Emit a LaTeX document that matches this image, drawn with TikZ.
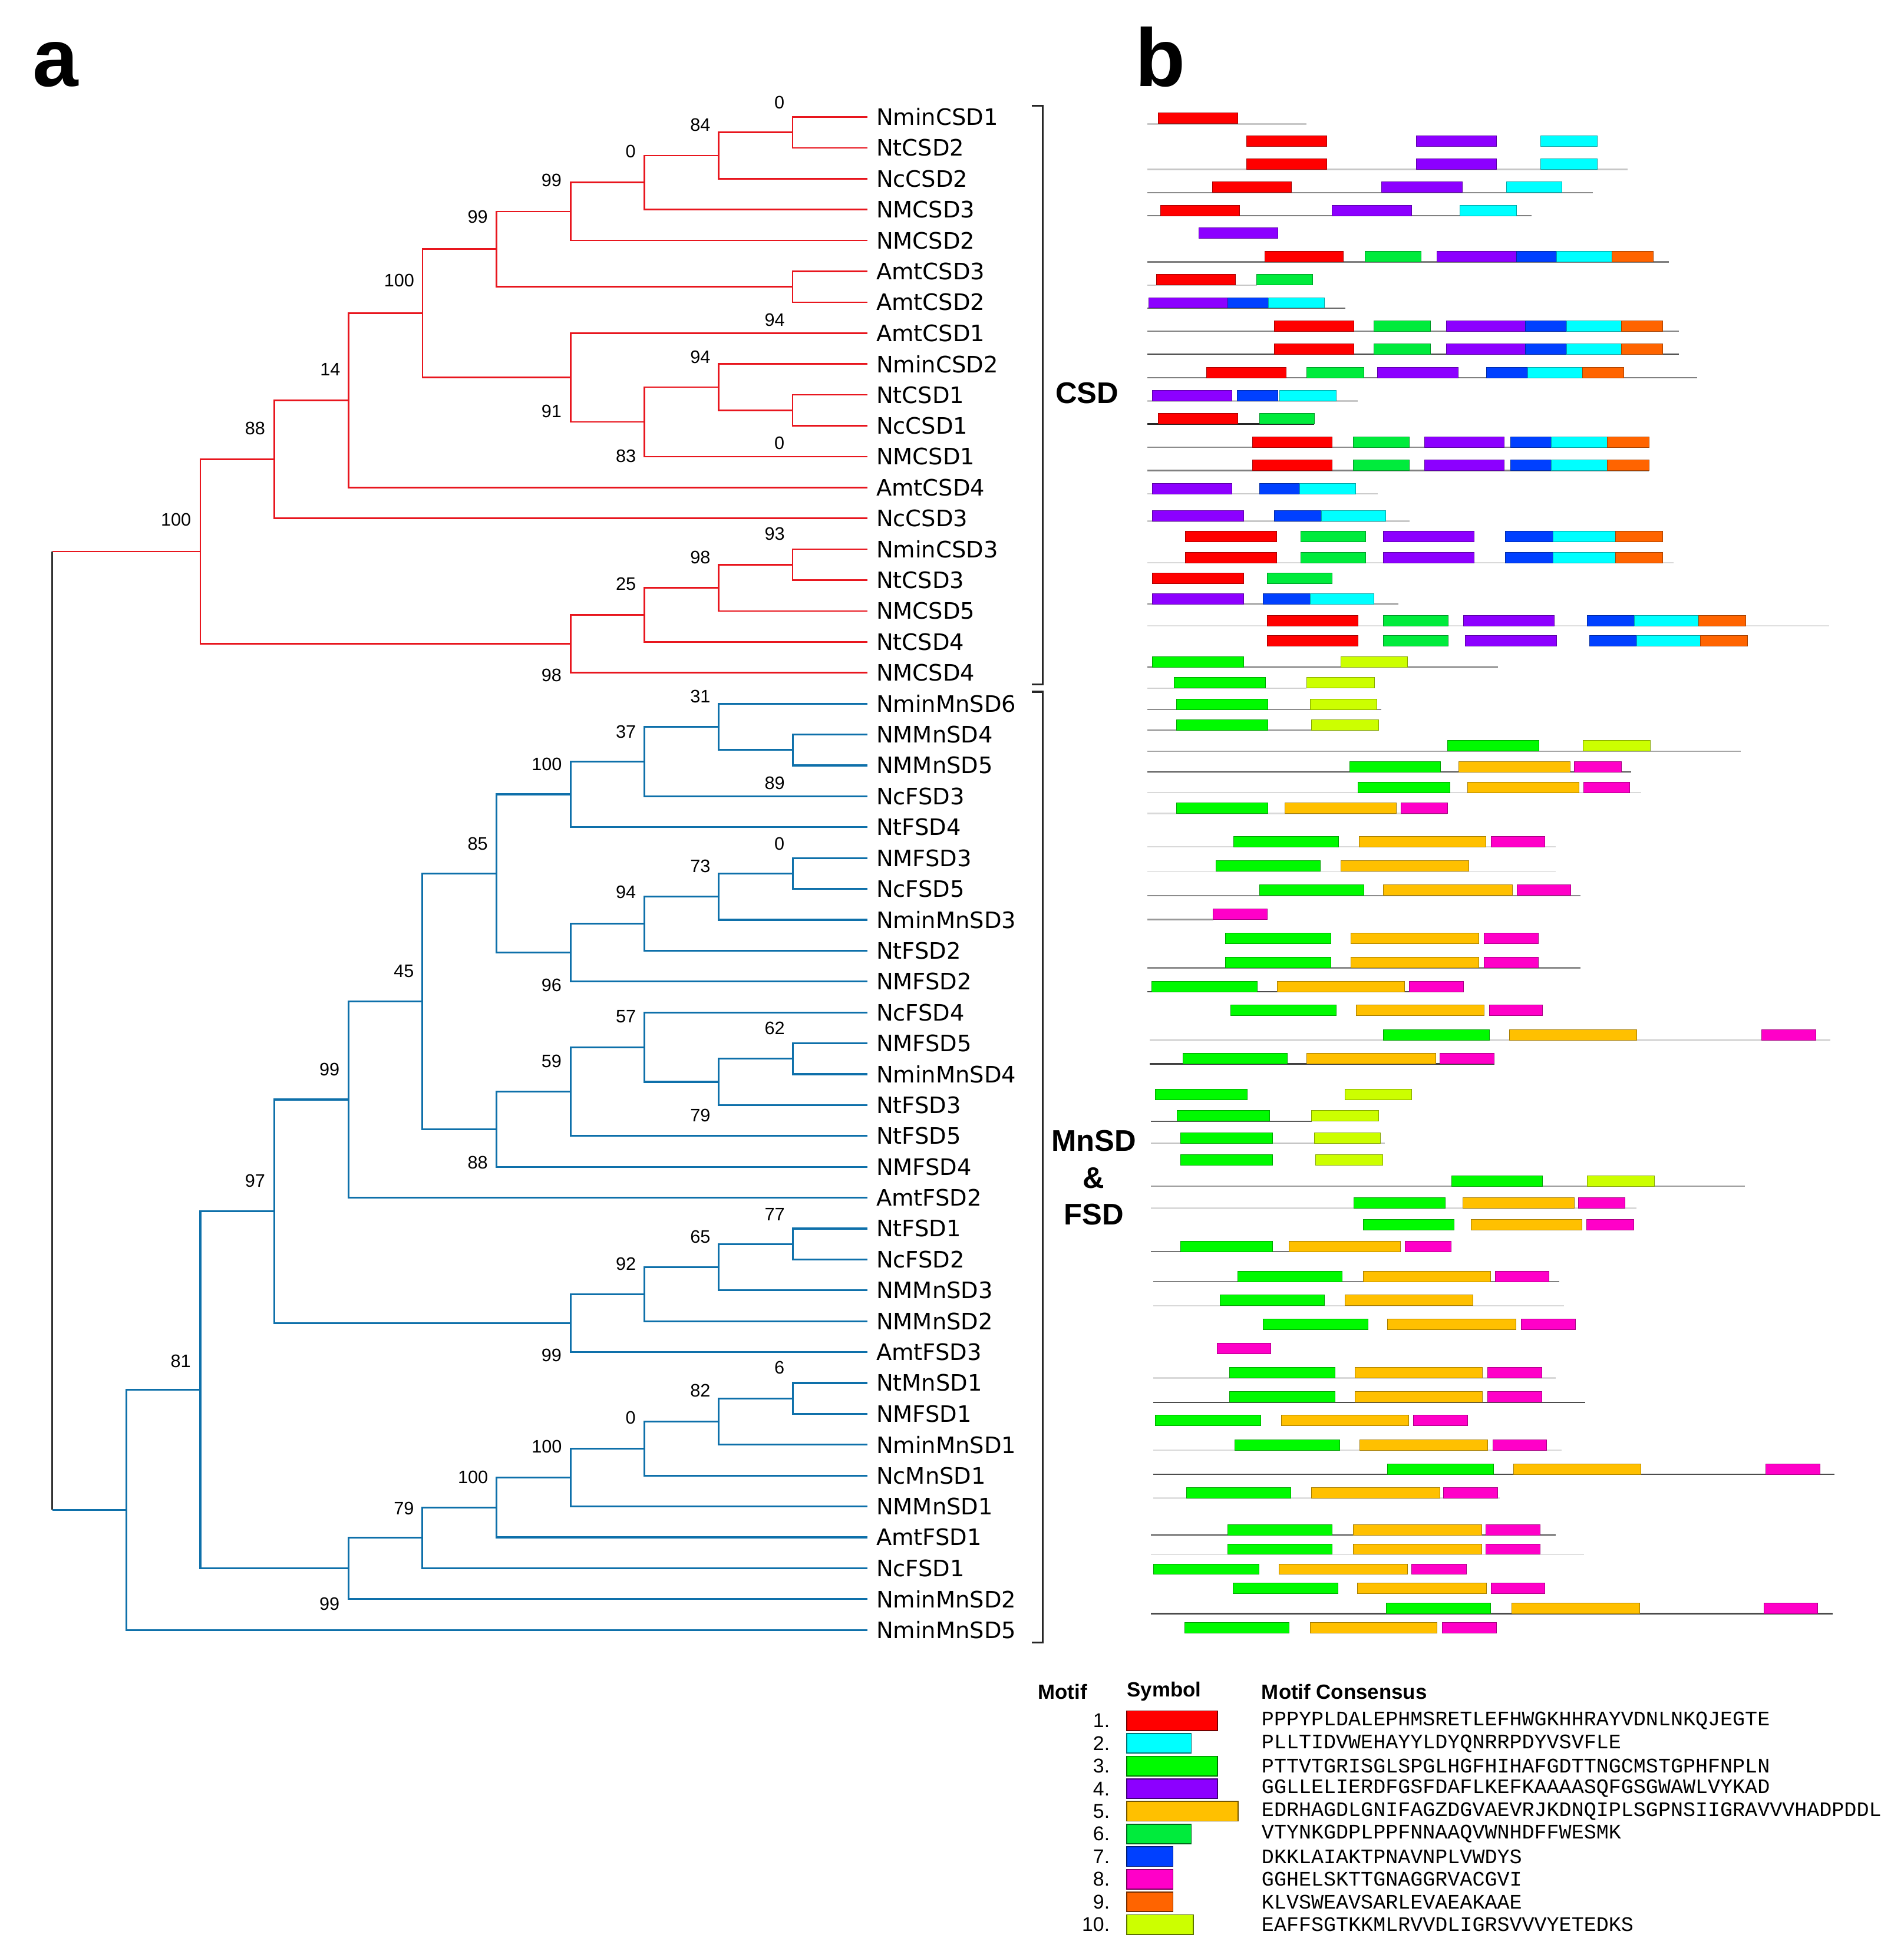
\documentclass[tikz,border=0pt]{standalone}
\usepackage{fontspec}
\setmainfont{Liberation Sans}
\newfontfamily\leaffont{DejaVu Sans}
\newfontfamily\seqfont{Liberation Mono}
\usetikzlibrary{calc}
\definecolor{csdred}{RGB}{232,22,30}
\definecolor{fsdblue}{RGB}{14,112,170}
\definecolor{mA}{RGB}{255,0,0}
\definecolor{mB}{RGB}{0,255,255}
\definecolor{mC}{RGB}{0,250,0}
\definecolor{mD}{RGB}{140,0,255}
\definecolor{mE}{RGB}{255,192,0}
\definecolor{mF}{RGB}{0,235,60}
\definecolor{mG}{RGB}{0,64,255}
\definecolor{mH}{RGB}{255,0,200}
\definecolor{mI}{RGB}{255,100,0}
\definecolor{mJ}{RGB}{204,255,0}

\begin{document}
\begin{tikzpicture}[x=1pt,y=-1pt,
    csd/.style={draw=csdred,line width=1.3pt},
    fsd/.style={draw=fsdblue,line width=1.5pt},
    rootline/.style={draw=black!80,line width=1.3pt},
    leaf/.style={anchor=west,inner xsep=7pt,inner ysep=0pt,font=\leaffont\fontsize{18.2}{20}\selectfont},
    boot/.style={inner sep=0pt,font=\fontsize{14.5}{16}\selectfont},
    group/.style={inner sep=0pt,font=\bfseries\fontsize{24}{29.5}\selectfont},
    panel/.style={anchor=base west,inner sep=0pt,font=\bfseries\fontsize{66}{70}\selectfont},
    bracket/.style={draw=black!85,line width=1.5pt},
    motif/.style={fill=#1,draw=#1!65!black,line width=0.35pt},
    keybar/.style={fill=#1,draw=#1!45!black,line width=0.8pt},
    head/.style={anchor=west,inner sep=0pt,font=\bfseries\fontsize{16.5}{18}\selectfont},
    num/.style={anchor=east,inner sep=0pt,font=\fontsize{16}{18}\selectfont},
    seq/.style={anchor=west,inner sep=0pt,font=\seqfont\fontsize{16.6}{18}\selectfont}]
  \useasboundingbox (0,0) rectangle (1530,1568);

  % panel letters
  \node[panel] (pa) at (26,69.5) {a};
  \node[panel] (pb) at (912,69.5) {b};

  % levels of the tree
  \foreach \k in {0,...,10}
    \coordinate (x\k) at ({42+59.5*\k},0);

  % leaves
  \foreach \name [count=\i from 0] in {NminCSD1,NtCSD2,NcCSD2,NMCSD3,NMCSD2,AmtCSD3,AmtCSD2,AmtCSD1,NminCSD2,NtCSD1,NcCSD1,NMCSD1,AmtCSD4,NcCSD3,NminCSD3,NtCSD3,NMCSD5,NtCSD4,NMCSD4,NminMnSD6,NMMnSD4,NMMnSD5,NcFSD3,NtFSD4,NMFSD3,NcFSD5,NminMnSD3,NtFSD2,NMFSD2,NcFSD4,NMFSD5,NminMnSD4,NtFSD3,NtFSD5,NMFSD4,AmtFSD2,NtFSD1,NcFSD2,NMMnSD3,NMMnSD2,AmtFSD3,NtMnSD1,NMFSD1,NminMnSD1,NcMnSD1,NMMnSD1,AmtFSD1,NcFSD1,NminMnSD2,NminMnSD5}
    \node[leaf] (l\i) at (697,{94+24.816*\i}) {\name};

  % CSD clade
  \coordinate (c1) at ($(x10 |- l0.west)!.5!(x10 |- l1.west)$);
  \draw[csd] (l0.west) -| (c1) |- (l1.west);
  \coordinate (c2) at ($(x9 |- c1)!.5!(x9 |- l2.west)$);
  \draw[csd] (c1) -| (c2) |- (l2.west);
  \coordinate (c3) at ($(x8 |- c2)!.5!(x8 |- l3.west)$);
  \draw[csd] (c2) -| (c3) |- (l3.west);
  \coordinate (c4) at ($(x7 |- c3)!.5!(x7 |- l4.west)$);
  \draw[csd] (c3) -| (c4) |- (l4.west);
  \coordinate (c5) at ($(x10 |- l5.west)!.5!(x10 |- l6.west)$);
  \draw[csd] (l5.west) -| (c5) |- (l6.west);
  \coordinate (c6) at ($(x6 |- c4)!.5!(x6 |- c5)$);
  \draw[csd] (c4) -| (c6) |- (c5);
  \coordinate (c7) at ($(x10 |- l9.west)!.5!(x10 |- l10.west)$);
  \draw[csd] (l9.west) -| (c7) |- (l10.west);
  \coordinate (c8) at ($(x9 |- l8.west)!.5!(x9 |- c7)$);
  \draw[csd] (l8.west) -| (c8) |- (c7);
  \coordinate (c9) at ($(x8 |- c8)!.5!(x8 |- l11.west)$);
  \draw[csd] (c8) -| (c9) |- (l11.west);
  \coordinate (c10) at ($(x7 |- l7.west)!.5!(x7 |- c9)$);
  \draw[csd] (l7.west) -| (c10) |- (c9);
  \coordinate (c11) at ($(x5 |- c6)!.5!(x5 |- c10)$);
  \draw[csd] (c6) -| (c11) |- (c10);
  \coordinate (c12) at ($(x4 |- c11)!.5!(x4 |- l12.west)$);
  \draw[csd] (c11) -| (c12) |- (l12.west);
  \coordinate (c13) at ($(x3 |- c12)!.5!(x3 |- l13.west)$);
  \draw[csd] (c12) -| (c13) |- (l13.west);
  \coordinate (c14) at ($(x10 |- l14.west)!.5!(x10 |- l15.west)$);
  \draw[csd] (l14.west) -| (c14) |- (l15.west);
  \coordinate (c15) at ($(x9 |- c14)!.5!(x9 |- l16.west)$);
  \draw[csd] (c14) -| (c15) |- (l16.west);
  \coordinate (c16) at ($(x8 |- c15)!.5!(x8 |- l17.west)$);
  \draw[csd] (c15) -| (c16) |- (l17.west);
  \coordinate (c17) at ($(x7 |- c16)!.5!(x7 |- l18.west)$);
  \draw[csd] (c16) -| (c17) |- (l18.west);
  \coordinate (c18) at ($(x2 |- c13)!.5!(x2 |- c17)$);
  \draw[csd] (c13) -| (c18) |- (c17);

  % MnSD & FSD clade
  \coordinate (b10) at ($(x10 |- l20.west)!.5!(x10 |- l21.west)$);
  \draw[fsd] (l20.west) -| (b10) |- (l21.west);
  \coordinate (b9) at ($(x9 |- l19.west)!.5!(x9 |- b10)$);
  \draw[fsd] (l19.west) -| (b9) |- (b10);
  \coordinate (b8) at ($(x8 |- b9)!.5!(x8 |- l22.west)$);
  \draw[fsd] (b9) -| (b8) |- (l22.west);
  \coordinate (b7) at ($(x7 |- b8)!.5!(x7 |- l23.west)$);
  \draw[fsd] (b8) -| (b7) |- (l23.west);
  \coordinate (b14) at ($(x10 |- l24.west)!.5!(x10 |- l25.west)$);
  \draw[fsd] (l24.west) -| (b14) |- (l25.west);
  \coordinate (b13) at ($(x9 |- b14)!.5!(x9 |- l26.west)$);
  \draw[fsd] (b14) -| (b13) |- (l26.west);
  \coordinate (b12) at ($(x8 |- b13)!.5!(x8 |- l27.west)$);
  \draw[fsd] (b13) -| (b12) |- (l27.west);
  \coordinate (b11) at ($(x7 |- b12)!.5!(x7 |- l28.west)$);
  \draw[fsd] (b12) -| (b11) |- (l28.west);
  \coordinate (b6) at ($(x6 |- b7)!.5!(x6 |- b11)$);
  \draw[fsd] (b7) -| (b6) |- (b11);
  \coordinate (b19) at ($(x10 |- l30.west)!.5!(x10 |- l31.west)$);
  \draw[fsd] (l30.west) -| (b19) |- (l31.west);
  \coordinate (b18) at ($(x9 |- b19)!.5!(x9 |- l32.west)$);
  \draw[fsd] (b19) -| (b18) |- (l32.west);
  \coordinate (b17) at ($(x8 |- l29.west)!.5!(x8 |- b18)$);
  \draw[fsd] (l29.west) -| (b17) |- (b18);
  \coordinate (b16) at ($(x7 |- b17)!.5!(x7 |- l33.west)$);
  \draw[fsd] (b17) -| (b16) |- (l33.west);
  \coordinate (b15) at ($(x6 |- b16)!.5!(x6 |- l34.west)$);
  \draw[fsd] (b16) -| (b15) |- (l34.west);
  \coordinate (b5) at ($(x5 |- b6)!.5!(x5 |- b15)$);
  \draw[fsd] (b6) -| (b5) |- (b15);
  \coordinate (b4) at ($(x4 |- b5)!.5!(x4 |- l35.west)$);
  \draw[fsd] (b5) -| (b4) |- (l35.west);
  \coordinate (b23) at ($(x10 |- l36.west)!.5!(x10 |- l37.west)$);
  \draw[fsd] (l36.west) -| (b23) |- (l37.west);
  \coordinate (b22) at ($(x9 |- b23)!.5!(x9 |- l38.west)$);
  \draw[fsd] (b23) -| (b22) |- (l38.west);
  \coordinate (b21) at ($(x8 |- b22)!.5!(x8 |- l39.west)$);
  \draw[fsd] (b22) -| (b21) |- (l39.west);
  \coordinate (b20) at ($(x7 |- b21)!.5!(x7 |- l40.west)$);
  \draw[fsd] (b21) -| (b20) |- (l40.west);
  \coordinate (b3) at ($(x3 |- b4)!.5!(x3 |- b20)$);
  \draw[fsd] (b4) -| (b3) |- (b20);
  \coordinate (b30) at ($(x10 |- l41.west)!.5!(x10 |- l42.west)$);
  \draw[fsd] (l41.west) -| (b30) |- (l42.west);
  \coordinate (b29) at ($(x9 |- b30)!.5!(x9 |- l43.west)$);
  \draw[fsd] (b30) -| (b29) |- (l43.west);
  \coordinate (b28) at ($(x8 |- b29)!.5!(x8 |- l44.west)$);
  \draw[fsd] (b29) -| (b28) |- (l44.west);
  \coordinate (b27) at ($(x7 |- b28)!.5!(x7 |- l45.west)$);
  \draw[fsd] (b28) -| (b27) |- (l45.west);
  \coordinate (b26) at ($(x6 |- b27)!.5!(x6 |- l46.west)$);
  \draw[fsd] (b27) -| (b26) |- (l46.west);
  \coordinate (b25) at ($(x5 |- b26)!.5!(x5 |- l47.west)$);
  \draw[fsd] (b26) -| (b25) |- (l47.west);
  \coordinate (b24) at ($(x4 |- b25)!.5!(x4 |- l48.west)$);
  \draw[fsd] (b25) -| (b24) |- (l48.west);
  \coordinate (b2) at ($(x2 |- b3)!.5!(x2 |- b24)$);
  \draw[fsd] (b3) -| (b2) |- (b24);
  \coordinate (b1) at ($(x1 |- b2)!.5!(x1 |- l49.west)$);
  \draw[fsd] (b2) -| (b1) |- (l49.west);

  % root
  \coordinate (root) at ($(x0 |- c18)!.5!(x0 |- b1)$);
  \draw[csd] (c18) -- (c18 -| root);
  \draw[fsd] (b1) -- (b1 -| root);
  \draw[rootline] (c18 -| root) -- (b1 -| root);

  % bootstrap values
  \foreach \x/\y/\t [count=\k] in {626.4/82.3/0,562.8/100.3/84,506.8/121.9/0,443.2/144.8/99,383.9/174.1/99,320.8/225.4/100,622.6/257.2/94,562.8/286.8/94,265.4/296.7/14,443.2/330.3/91,205/344.4/88,626.4/356.1/0,503/366.3/83,141.4/417.9/100,622.6/429.2/93,562.8/447.9/98,503/469.1/25,443.2/542.9/98,562.8/559.8/31,503/588.1/37,439.4/614.3/100,622.6/629.2/89,383.9/678/85,626.4/678/0,562.8/696/73,503/717.1/94,324.6/780.3/45,443.2/791.6/96,503/816.8/57,622.6/826.5/62,443.2/852.7/59,264.8/859.4/99,562.8/896.4/79,383.9/934.4/88,205/948.8/97,622.6/976/77,562.8/994/65,503/1015.6/92,443.2/1089.1/99,145.2/1093.7/81,626.4/1099.3/6,562.8/1117.8/82,506.8/1139.4/0,439.4/1162.5/100,380.1/1187.2/100,324.6/1212.4/79,264.8/1289/99}
    \node[boot] (bs\k) at (\x,\y) {\t};

  % groups
  \draw[bracket] (829,85) -- (838,85) -- (838,550) -- (829,550);
  \draw[bracket] (829,556) -- (838,556) -- (838,1320) -- (829,1320);
  \node[group] (csd) at (873.5,316) {CSD};
  \node[group,align=center] (mnsd) at (879,946.5) {MnSD\\\&\\FSD};

  % panel b: protein lines
  \foreach \y/\s/\e/\g in {99.7/922/1050/22,136.1/922/1308/22,154.7/922/1280/45,173.4/922/1231/50,210.5/922/1341/50,229.1/922/1010/22,247.6/922/1081/60,266.2/922/1349/50,284.7/922/1349/75,303.5/922/1364/50,322.3/922/1091/22,340.7/922/1056/85,359.4/922/1325/45,378.2/922/1325/50,396.8/922/1107/20,418.8/922/1133/22,452.4/922/1345/15,485.5/922/1124/45,502.9/922/1470/12,536.2/922/1204/55,553.0/922/1050/18,570.3/922/1110/45,586.8/922/1054/45,603.7/922/1399/35,620.4/922/1311/70,637.0/922/1319/15,653.7/922/1163/15,680.6/922/1250/15,700.3/922/1250/10,719.7/922/1270/45,739.0/922/975/40,777.8/922/1270/45,797.1/922/1133/70,835.8/924/1471/22,855.1/924/1201/75,901.1/925/1054/65,918.8/925/1113/25,953.4/925/1402/40,971.1/925/1315/15,1006/925/1036/55,1030.1/927/1253/50,1049.3/927/1257/15,1107.5/927/1250/15,1127/927/1274/70,1165.5/927/1255/15,1184.9/927/1474/70,1204/927/1205/12,1233.7/925/1250/70,1249.2/925/1273/12,1296.8/925/1473/70}
    \draw[black!\g,line width=1.1pt] (\s,\y) -- (\e,\y);

  % panel b: motifs
  \foreach \y/\bars in {
    99.0/{930.7/994.8/mA},
    117.5/{1001.8/1066.3/mA,1138.1/1202.6/mD,1237.9/1283.5/mB},
    136.1/{1001.8/1066.3/mA,1138.1/1202.6/mD,1237.9/1283.5/mB},
    154.7/{974.4/1037.8/mA,1110.4/1174.9/mD,1210.6/1255.0/mB},
    173.4/{932.5/996.0/mA,1070.3/1134.4/mD,1173.0/1218.6/mB},
    191.7/{963.5/1026.9/mD},
    210.5/{1016.3/1079.4/mA,1096.9/1142.1/mF,1154.5/1218.6/mD,1218.6/1250.7/mG,1250.7/1295.5/mB,1295.5/1328.3/mI},
    229.1/{929.2/993.0/mA,1009.8/1055.0/mF},
    247.6/{923.0/986.8/mD,986.8/1019.3/mG,1019.3/1064.4/mB},
    266.2/{1024.0/1087.8/mA,1104.2/1149.4/mF,1162.1/1225.9/mD,1225.9/1258.7/mG,1258.7/1303.1/mB,1303.1/1336.0/mI},
    284.7/{1024.0/1087.8/mA,1104.2/1149.4/mF,1162.1/1225.9/mD,1225.9/1258.7/mG,1258.7/1303.1/mB,1303.1/1336.0/mI},
    303.5/{969.7/1033.5/mA,1049.9/1095.8/mF,1107.1/1171.6/mD,1194.5/1227.7/mG,1227.7/1271.8/mB,1271.8/1305.0/mI},
    322.3/{926.0/989.7/mD,994.1/1026.9/mG,1028.4/1073.6/mB},
    340.7/{930.7/994.8/mA,1012.0/1056.4/mF},
    359.4/{1006.5/1070.6/mA,1087.4/1132.6/mF,1145.0/1208.8/mD,1213.9/1246.7/mG,1246.7/1291.8/mB,1291.8/1325.4/mI},
    378.2/{1006.5/1070.6/mA,1087.4/1132.6/mF,1145.0/1208.8/mD,1213.9/1246.7/mG,1246.7/1291.8/mB,1291.8/1325.4/mI},
    396.8/{926.0/989.7/mD,1012.0/1044.4/mG,1044.4/1089.2/mB},
    418.8/{926.0/999.2/mD,1024.0/1061.9/mG,1061.9/1113.3/mB},
    435.2/{952.6/1025.8/mA,1045.1/1097.2/mF,1111.5/1184.7/mD,1209.5/1247.8/mG,1247.8/1298.4/mB,1298.4/1336.3/mI},
    452.4/{952.6/1025.8/mA,1045.1/1097.2/mF,1111.5/1184.7/mD,1209.5/1247.8/mG,1247.8/1298.4/mB,1298.4/1336.3/mI},
    469.0/{926.0/999.2/mA,1018.5/1070.3/mF},
    485.5/{926.0/999.2/mD,1014.9/1052.8/mG,1052.8/1104.2/mB},
    502.9/{1018.5/1091.4/mA,1111.5/1163.6/mF,1176.0/1249.2/mD,1275.4/1313.3/mG,1313.3/1365.1/mB,1365.1/1403.0/mI},
    519.2/{1018.5/1091.4/mA,1111.5/1163.6/mF,1177.4/1250.7/mD,1277.3/1315.5/mG,1315.5/1366.6/mB,1366.6/1404.5/mI},
    536.2/{926.0/999.2/mC,1077.6/1131.1/mJ},
    553.0/{943.5/1016.7/mC,1050.2/1104.5/mJ},
    570.3/{945.3/1018.9/mC,1052.8/1106.4/mJ},
    586.8/{945.3/1018.9/mC,1053.9/1107.8/mJ},
    603.7/{1163.2/1236.5/mC,1272.2/1326.1/mJ},
    620.4/{1084.5/1157.4/mC,1172.3/1261.6/mE,1265.2/1302.8/mH},
    637.0/{1091.1/1165.0/mC,1179.2/1268.9/mE,1272.5/1309.7/mH},
    653.7/{945.3/1018.9/mC,1032.7/1122.0/mE,1125.7/1163.2/mH},
    680.6/{991.2/1075.7/mC,1092.1/1194.2/mE,1198.5/1241.5/mH},
    700.3/{977.0/1060.8/mC,1077.6/1180.3/mE},
    719.7/{1012.0/1095.8/mC,1111.8/1215.3/mE,1219.0/1262.3/mH},
    739.0/{974.8/1018.2/mH},
    758.2/{984.6/1069.5/mC,1085.6/1188.4/mE,1192.4/1236.1/mH},
    777.8/{984.6/1069.5/mC,1085.6/1188.4/mE,1192.4/1236.1/mH},
    797.1/{925.6/1010.1/mC,1026.2/1128.6/mE,1132.6/1176.0/mH},
    816.2/{989.0/1073.6/mC,1090.0/1192.4/mE,1196.7/1239.7/mH},
    835.8/{1111.8/1196.7/mC,1212.8/1315.5/mE,1415.8/1459.1/mH},
    855.1/{950.4/1034.6/mC,1050.2/1153.7/mE,1157.0/1200.7/mH},
    883.9/{928.5/1002.1/mC,1080.8/1134.4/mJ},
    901.1/{946.0/1020.0/mC,1053.9/1107.8/mJ},
    918.8/{948.6/1022.5/mC,1056.1/1109.3/mJ},
    936.4/{948.6/1022.5/mC,1057.2/1111.1/mJ},
    953.4/{1166.5/1239.7/mC,1275.4/1329.4/mJ},
    971.1/{1087.8/1161.4/mC,1175.6/1264.9/mE,1268.5/1305.7/mH},
    988.5/{1095.4/1168.3/mC,1182.2/1271.4/mE,1275.1/1313.0/mH},
    1006.0/{948.6/1022.5/mC,1036.0/1125.3/mE,1129.0/1166.1/mH},
    1030.1/{994.5/1078.7/mC,1095.4/1197.8/mE,1201.8/1244.8/mH},
    1049.3/{980.3/1064.1/mC,1080.8/1183.6/mE},
    1068.5/{1015.2/1099.1/mC,1115.1/1218.2/mE,1222.6/1266.0/mH},
    1088.1/{978.1/1021.1/mH},
    1107.5/{987.9/1072.8/mC,1088.9/1191.3/mE,1195.6/1239.0/mH},
    1127.0/{987.9/1072.8/mC,1088.9/1191.3/mE,1195.6/1239.0/mH},
    1145.9/{928.5/1013.1/mC,1029.5/1131.9/mE,1135.9/1179.2/mH},
    1165.5/{992.3/1076.5/mC,1092.9/1195.6/mE,1199.6/1243.0/mH},
    1184.9/{1115.1/1200.0/mC,1216.1/1318.5/mE,1419.0/1462.4/mH},
    1204.0/{953.3/1037.5/mC,1053.9/1157.0/mE,1159.9/1203.7/mH},
    1233.7/{986.5/1070.6/mC,1087.4/1190.5/mE,1193.8/1237.5/mH},
    1249.2/{986.5/1070.6/mC,1087.4/1190.5/mE,1193.8/1237.5/mH},
    1265.3/{927.1/1011.6/mC,1027.6/1131.2/mE,1134.4/1178.2/mH},
    1280.8/{990.8/1075.0/mC,1090.7/1194.5/mE,1198.2/1241.6/mH},
    1296.8/{1114.0/1197.8/mC,1215.0/1317.4/mE,1417.6/1460.6/mH},
    1312.5/{952.2/1036.0/mC,1052.8/1154.8/mE,1158.8/1202.6/mH}}
    \foreach \a/\b/\c in \bars
      \path[motif=\c] (\a,\y) rectangle (\b,\y-8.5);

  % legend
  \node[head] (hmotif) at (834,1359.6) {Motif};
  \node[head] (hsym) at (905.5,1359.6) {Symbol};
  \node[head] (hcons) at (1013.7,1359.6) {Motif Consensus};
  \foreach \k/\w/\c/\s in {1/978.5/mA/PPPYPLDALEPHMSRETLEFHWGKHHRAYVDNLNKQJEGTE,
      2/957.3/mB/PLLTIDVWEHAYYLDYQNRRPDYVSVFLE,
      3/978.5/mC/PTTVTGRISGLSPGLHGFHIHAFGDTTNGCMSTGPHFNPLN,
      4/978.5/mD/GGLLELIERDFGSFDAFLKEFKAAAASQFGSGWAWLVYKAD,
      5/994.8/mE/EDRHAGDLGNIFAGZDGVAEVRJKDNQIPLSGPNSIIGRAVVVHADPDDL,
      6/957.3/mF/VTYNKGDPLPPFNNAAQVWNHDFFWESMK,
      7/942.6/mG/DKKLAIAKTPNAVNPLVWDYS,
      8/942.6/mH/GGHELSKTTGNAGGRVACGVI,
      9/942.6/mI/KLVSWEAVSARLEVAEAKAAE,
      10/959.1/mJ/EAFFSGTKKMLRVVDLIGRSVVVYETEDKS} {
    \node[num] (n\k) at (892,{1382.9+18.2*(\k-1)}) {\k.};
    \path[keybar=\c] (905.5,{1375+18.2*(\k-1)}) rectangle (\w,{1390.8+18.2*(\k-1)});
    \node[seq] (s\k) at (1013.7,{1382.9+18.2*(\k-1)}) {\s};
  }
\end{tikzpicture}
\end{document}
